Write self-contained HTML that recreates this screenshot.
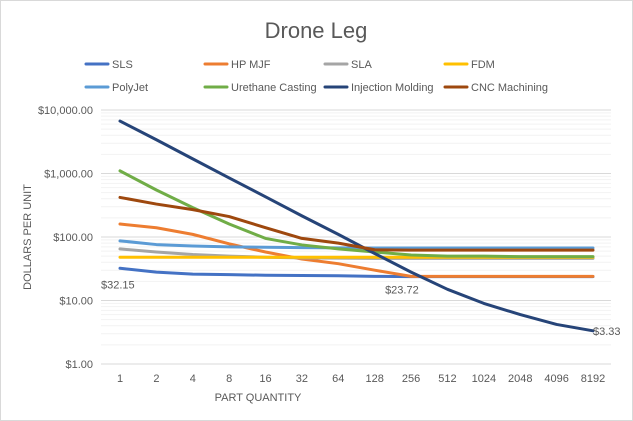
<!DOCTYPE html>
<html><head><meta charset="utf-8"><style>
body{margin:0;background:#fff}
svg{display:block;font-family:"Liberation Sans",sans-serif}
</style></head><body>
<svg id="c" width="633" height="421">
<rect x="0.5" y="0.5" width="632" height="420" fill="#fff" stroke="#d9d9d9"/>
<text x="316" y="38" text-anchor="middle" font-size="22" fill="#595959">Drone Leg</text>
<g id="grid"></g><g id="axes"></g><g id="series"></g><g id="legend"></g>
<text x="258" y="401" text-anchor="middle" font-size="11" fill="#595959">PART QUANTITY</text>
<text transform="translate(31,237) rotate(-90)" text-anchor="middle" font-size="11" fill="#595959">DOLLARS PER UNIT</text>
</svg>
<script>
const categories=["1","2","4","8","16","32","64","128","256","512","1024","2048","4096","8192"];
const yTicks=[1,10,100,1000,10000];
const yTickLabels=["$1.00","$10.00","$100.00","$1,000.00","$10,000.00"];
const seriesNames=["SLS","HP MJF","SLA","FDM","PolyJet","Urethane Casting","Injection Molding","CNC Machining"];
const seriesColors=["#4472C4","#ED7D31","#A5A5A5","#FFC000","#5B9BD5","#70AD47","#264478","#9E480E"];
const sls=[32.15,28,26,25.5,25,24.8,24.5,24,23.72,23.72,23.72,23.72,23.72,23.72];
const hpmjf=[160,140,110,78,58,45,38,30,24,24,24,24,24,24];
const sla=[65,58,53,50,48,47,46.5,46,46,46,46,46,46,46];
const fdm=[48,48,48,48,48,48,48,48,48,48,48,48,48,48];
const polyjet=[87,76,72,70,69,68,67.5,67,67,67,67,67,67,67];
const urethane=[1100,550,290,160,95,75,65,58,52,50,50,49,49,49];
const injection=[6700,3400,1700,850,430,215,110,55,28,15,9,6,4.2,3.33];
const cnc=[420,330,270,210,140,95,80,63,62,62,62,62,62,62];
const allSeries=[sls,hpmjf,sla,fdm,polyjet,urethane,injection,cnc];
const dataLabels=[{s:0,i:0,t:"$32.15",dx:-19,dy:20},{s:1,i:8,t:"$23.72",dx:-26,dy:17},{s:6,i:13,t:"$3.33",dx:0,dy:4}];

const NS="http://www.w3.org/2000/svg";
const X0=120,X1=593,Ytop=110,Ybot=364;
const xs=i=>X0+i*(X1-X0)/(categories.length-1);
const ys=v=>Ybot-(Math.log10(v)-0)*(Ybot-Ytop)/4;
function mk(tag,attrs,parent){const e=document.createElementNS(NS,tag);for(const k in attrs)e.setAttribute(k,attrs[k]);parent.appendChild(e);return e;}
const grid=document.getElementById('grid'),axes=document.getElementById('axes'),ser=document.getElementById('series'),leg=document.getElementById('legend');
for(let d=0;d<4;d++){for(let m=2;m<10;m++){const y=ys(m*Math.pow(10,d));const l=mk('line',{x1:101,x2:611,y1:y,y2:y,stroke:'#f2f2f2','stroke-width':1},grid);

}}
yTicks.forEach((v,i)=>{const y=ys(v);const l=mk('line',{x1:101,x2:611,y1:y,y2:y,stroke:'#d9d9d9','stroke-width':1},grid);


const t=mk('text',{x:93,y:y+4,'text-anchor':'end','font-size':11,fill:'#595959'},axes);t.textContent=yTickLabels[i];

});
categories.forEach((c,i)=>{const t=mk('text',{x:xs(i),y:382,'text-anchor':'middle','font-size':11,fill:'#595959'},axes);t.textContent=c;

});
allSeries.forEach((arr,s)=>{const p=mk('polyline',{points:arr.map((v,i)=>xs(i)+','+ys(v)).join(' '),fill:'none',stroke:seriesColors[s],'stroke-width':3,'stroke-linejoin':'round','stroke-linecap':'round'},ser);

});
dataLabels.forEach(d=>{const v=allSeries[d.s][d.i];const t=mk('text',{x:xs(d.i)+d.dx,y:ys(v)+d.dy,'font-size':11,fill:'#595959'},ser);t.textContent=d.t;

});
const lx=[86,205,325,445];
seriesNames.forEach((n,s)=>{const x=lx[s%4],y=s<4?64:87;const g=mk('g',{},leg);


mk('line',{x1:x,x2:x+22,y1:y,y2:y,stroke:seriesColors[s],'stroke-width':3,'stroke-linecap':'round'},g);
const t=mk('text',{x:x+26,y:y+4,'font-size':11,fill:'#595959'},g);t.textContent=n;});
</script>
</body></html>
